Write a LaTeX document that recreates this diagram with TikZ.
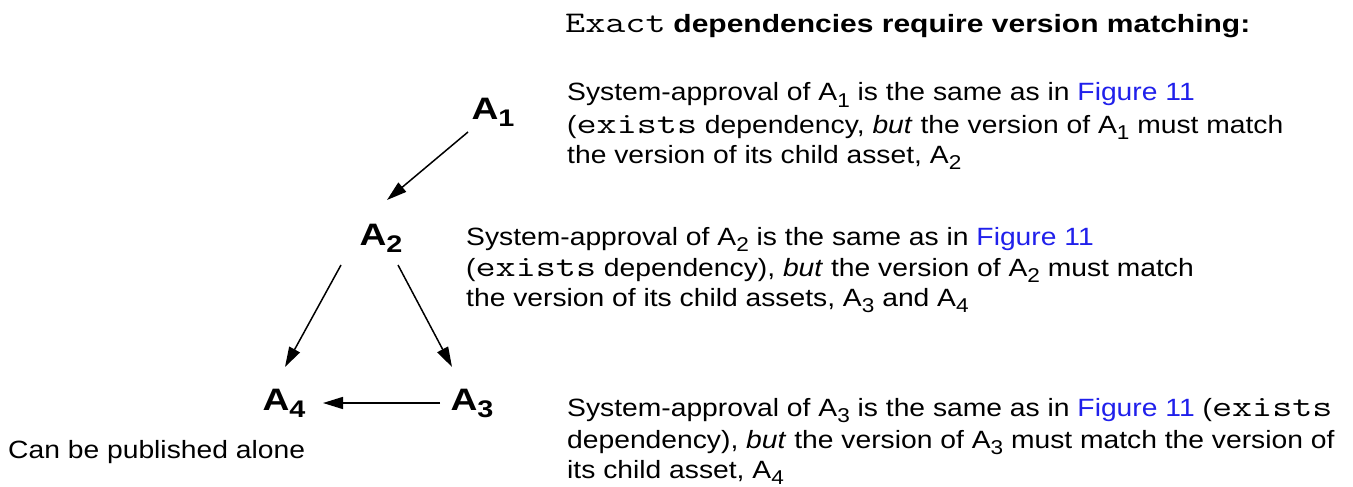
\documentclass[tikz,border=0pt]{standalone}
\usepackage{fontspec}
\setmainfont{Liberation Sans}[FakeStretch=1.13,BoldFeatures={FakeStretch=1.2}]
\newfontfamily\courfont{Latin Modern Mono}[FakeStretch=1.3]
\usetikzlibrary{arrows.meta}
\definecolor{linkblue}{RGB}{32,32,235}
\newcommand\txsub[1]{\raisebox{-6pt}{\fontsize{20}{20}\selectfont #1}}
\newcommand\ndsub[1]{\raisebox{-7pt}{\fontsize{24}{24}\selectfont\bfseries #1}}
\newcommand\code[1]{{\fontsize{30}{30}\selectfont\courfont #1}}
\newcommand\figref{\textcolor{linkblue}{Figure 11}}
\begin{document}
\begin{tikzpicture}[x=1pt,y=-1pt,
  txt/.style={anchor=base west, inner sep=0pt, font=\fontsize{25}{25}\selectfont},
  asset/.style={inner sep=0pt, font=\fontsize{31}{31}\selectfont\bfseries},
  dep/.style={line width=1.5pt, -{Triangle[length=20pt,width=12pt]}}]
\useasboundingbox (0,0) rectangle (1353,487);
% assets
\node[asset] (A1) at (493,112) {A\ndsub{1}};
\node[asset] (A2) at (381,238) {A\ndsub{2}};
\node[asset] (A4) at (284,403) {A\ndsub{4}};
\node[asset] (A3) at (472,403) {A\ndsub{3}};
% connectors
\draw[dep] ([shift={(-25,20)}]A1.center) -- ([shift={(6,-38)}]A2.center);
\draw[dep] ([shift={(-40,27)}]A2.center) -- ([shift={(1,-36)}]A4.center);
\draw[dep] ([shift={(17,27)}]A2.center) -- ([shift={(-20,-36)}]A3.center);
\draw[dep] ([shift={(-32,0)}]A3.center) -- ([shift={(39,0)}]A4.center);
% title
\node[txt] (title) at (565,33) {\code{Exact} \textbf{dependencies require version matching:}};
% block 1
\node[txt] (b1a) at (567,101) {System-approval of A\txsub{1} is the same as in \figref};
\node[txt] (b1b) at (567,133) {(\code{exists} dependency, \textit{but} the version of A\txsub{1} must match};
\node[txt] (b1c) at (567,163) {the version of its child asset, A\txsub{2}};
% block 2
\node[txt] (b2a) at (466,245) {System-approval of A\txsub{2} is the same as in \figref};
\node[txt] (b2b) at (466,276) {(\code{exists} dependency), \textit{but} the version of A\txsub{2} must match};
\node[txt] (b2c) at (466,306) {the version of its child assets, A\txsub{3} and A\txsub{4}};
% block 3
\node[txt] (b3a) at (567,416) {System-approval of A\txsub{3} is the same as in \figref{} (\code{exists}};
\node[txt] (b3b) at (567,448) {dependency), \textit{but} the version of A\txsub{3} must match the version of};
\node[txt] (b3c) at (567,478) {its child asset, A\txsub{4}};
% note
\node[txt] (alone) at (8,458) {Can be published alone};
\end{tikzpicture}
\end{document}
